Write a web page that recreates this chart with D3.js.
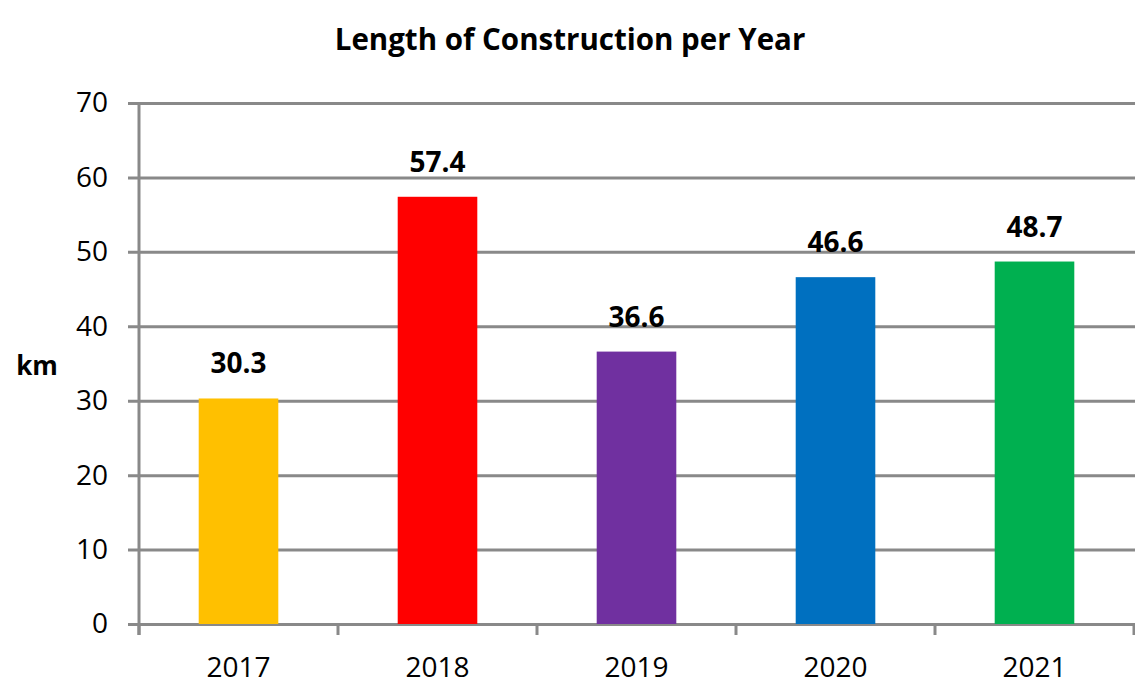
<!DOCTYPE html>
<html>
<head>
<meta charset="utf-8">
<script src="https://cdn.jsdelivr.net/npm/d3@7"></script>
<style>
  body { margin: 0; background: #fff; }
  text { font-family: "Open Sans", "Noto Sans", sans-serif; fill: #000; }
</style>
</head>
<body>
<script>
// data
var YEARS = ["2017", "2018", "2019", "2020", "2021"];
var LENGTHS = [30.3, 57.4, 36.6, 46.6, 48.7];
var COLORS = ["#FFC000", "#FF0000", "#7030A0", "#0070C0", "#00B050"];
var Y_TICKS = [0, 10, 20, 30, 40, 50, 60, 70];

var W = 1135, H = 692;
var MARGINS = {top: 103, bottom: 68, left: 139, right: 1};

var svg = d3.select("body").append("svg")
    .attr("width", W).attr("height", H);

var xScale = d3.scaleBand().domain(YEARS)
    .range([MARGINS.left, W - MARGINS.right])
    .paddingInner(0.6).paddingOuter(0.3);

var yScale = d3.scaleLinear().domain([0, 70])
    .range([H - MARGINS.bottom, MARGINS.top]);

// gridlines + y axis
var yAxis = d3.axisLeft(yScale).tickValues(Y_TICKS)
    .tickSize(-(W - MARGINS.right - MARGINS.left) - 1).tickPadding(31);
var gy = svg.append("g").attr("class", "y axis")
    .attr("transform", "translate(" + MARGINS.left + ",0)")
    .call(yAxis);
gy.select(".domain").remove();
gy.selectAll("line").attr("x1", -11).attr("stroke", "#898989").attr("stroke-width", 3);
gy.selectAll("text").style("font-size", "28px").attr("fill", "#000");

// bars
svg.selectAll("rect.bar").data(LENGTHS).enter().append("rect")
    .attr("class", "bar")
    .attr("x", function (d, i) { return xScale(YEARS[i]); })
    .attr("width", xScale.bandwidth())
    .attr("y", function (d) { return yScale(d); })
    .attr("height", function (d) { return yScale(0) - yScale(d); })
    .attr("fill", function (d, i) { return COLORS[i]; });

// value labels
svg.selectAll("text.val").data(LENGTHS).enter().append("text")
    .attr("class", "val")
    .attr("x", function (d, i) { return xScale(YEARS[i]) + xScale.bandwidth() / 2; })
    .attr("y", function (d) { return yScale(d) - 25; })
    .attr("text-anchor", "middle")
    .style("font-size", "28px").style("font-weight", "bold")
    .text(function (d) { return d.toFixed(1); });

// y axis line
svg.append("line")
    .attr("x1", MARGINS.left).attr("x2", MARGINS.left)
    .attr("y1", MARGINS.top).attr("y2", yScale(0) + 11)
    .attr("stroke", "#898989").attr("stroke-width", 3);

// x axis
var xAxis = d3.axisBottom(xScale).tickSize(0).tickPadding(33);
var gx = svg.append("g").attr("class", "x axis")
    .attr("transform", "translate(0," + yScale(0) + ")")
    .call(xAxis);
gx.select(".domain").remove();
gx.selectAll("text").style("font-size", "28px").attr("fill", "#000");

// category boundary ticks
var step = xScale.step();
var bounds = d3.range(YEARS.length + 1).map(function (i) { return MARGINS.left + i * step; });
svg.selectAll("line.xt").data(bounds).enter().append("line")
    .attr("class", "xt")
    .attr("x1", function (d) { return d; }).attr("x2", function (d) { return d; })
    .attr("y1", yScale(0)).attr("y2", yScale(0) + 11)
    .attr("stroke", "#898989").attr("stroke-width", 3);

// title
svg.append("text")
    .attr("x", 570).attr("y", 50)
    .attr("text-anchor", "middle")
    .style("font-size", "29.5px").style("font-weight", "bold")
    .text("Length of Construction per Year");

// y label
svg.append("text")
    .attr("x", 37).attr("y", 375)
    .attr("text-anchor", "middle")
    .style("font-size", "26px").style("font-weight", "bold")
    .text("km");
</script>
</body>
</html>
